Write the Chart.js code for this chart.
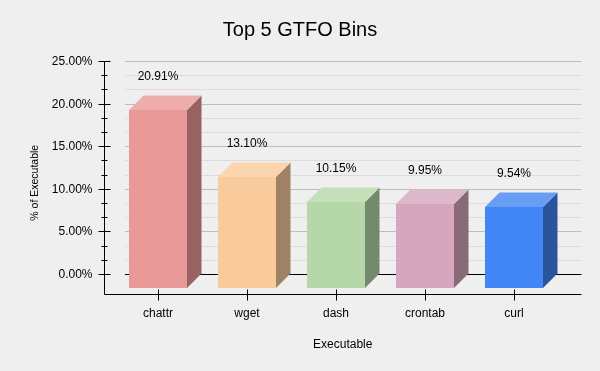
<!DOCTYPE html>
<html>
<head>
<meta charset="utf-8">
<script src="https://cdn.jsdelivr.net/npm/chart.js@4.4.1/dist/chart.umd.min.js"></script>
<style>
  body { margin: 0; background: #efefef; }
  canvas { display: block; }
</style>
</head>
<body>
<canvas id="binChart" width="600" height="371"></canvas>
<script>
const categories = ['chattr', 'wget', 'dash', 'crontab', 'curl'];
const percentages = [20.91, 13.10, 10.15, 9.95, 9.54];
const barColors = ['#ea9999', '#f9cb9c', '#b6d7a8', '#d5a6bd', '#4285f4'];
const majorTicks = [0, 5, 10, 15, 20, 25];
const minorTicks = [1.67, 3.33, 6.67, 8.33, 11.67, 13.33, 16.67, 18.33, 21.67, 23.33];

const FONT = '"Liberation Sans", Arial, sans-serif';
const DEPTH = 14.5;     // 3d offset of the bars
const HALF_BAR = 29;
const WALL_GAP = 21;    // gridlines start this far right of the axis

function shade(hex, f) {
  const n = parseInt(hex.slice(1), 16);
  const r = (n >> 16) & 255, g = (n >> 8) & 255, b = n & 255;
  return `rgb(${Math.round(r * f)}, ${Math.round(g * f)}, ${Math.round(b * f)})`;
}

function tint(hex, t) {
  const n = parseInt(hex.slice(1), 16);
  const r = (n >> 16) & 255, g = (n >> 8) & 255, b = n & 255;
  return `rgb(${Math.round(r + (255 - r) * t)}, ${Math.round(g + (255 - g) * t)}, ${Math.round(b + (255 - b) * t)})`;
}

const crisp = v => Math.round(v) + 0.5;

const bars3d = {
  id: 'bars3d',
  beforeDraw(chart) {
    const ctx = chart.ctx;
    ctx.save();
    ctx.fillStyle = '#efefef';
    ctx.fillRect(0, 0, chart.width, chart.height);
    ctx.restore();
  },
  beforeDatasetsDraw(chart) {
    const { ctx, chartArea } = chart;
    const y = chart.scales.y;
    const x0 = chartArea.left + WALL_GAP;
    const x1 = chartArea.right + DEPTH;
    ctx.save();
    ctx.lineWidth = 1;
    minorTicks.forEach(v => {
      const py = crisp(y.getPixelForValue(v));
      ctx.strokeStyle = '#dcdcdc';
      ctx.beginPath(); ctx.moveTo(x0, py); ctx.lineTo(x1, py); ctx.stroke();
    });
    majorTicks.forEach(v => {
      const py = crisp(y.getPixelForValue(v));
      ctx.strokeStyle = v === 0 ? '#000000' : '#bdbdbd';
      ctx.beginPath(); ctx.moveTo(x0, py); ctx.lineTo(x1, py); ctx.stroke();
    });
    ctx.restore();
  },
  afterDatasetsDraw(chart) {
    const { ctx, chartArea } = chart;
    const y = chart.scales.y;
    const meta = chart.getDatasetMeta(0);
    const base = y.getPixelForValue(0) + DEPTH;

    ctx.save();
    meta.data.forEach((bar, i) => {
      const color = barColors[i];
      const left = Math.round(bar.x - HALF_BAR);
      const right = Math.round(bar.x + HALF_BAR);
      const top = Math.round(bar.y + DEPTH);
      const bottom = Math.round(base);

      // side
      ctx.fillStyle = shade(color, 0.64);
      ctx.beginPath();
      ctx.moveTo(right, top);
      ctx.lineTo(right + DEPTH, top - DEPTH);
      ctx.lineTo(right + DEPTH, bottom - DEPTH);
      ctx.lineTo(right, bottom);
      ctx.closePath();
      ctx.fill();

      // top
      ctx.fillStyle = tint(color, 0.2);
      ctx.beginPath();
      ctx.moveTo(left, top);
      ctx.lineTo(left + DEPTH, top - DEPTH);
      ctx.lineTo(right + DEPTH, top - DEPTH);
      ctx.lineTo(right, top);
      ctx.closePath();
      ctx.fill();

      // front
      ctx.fillStyle = color;
      ctx.fillRect(left, top, right - left, bottom - top);

      // value label
      ctx.fillStyle = '#000';
      ctx.font = '12px ' + FONT;
      ctx.textAlign = 'center';
      ctx.textBaseline = 'middle';
      ctx.fillText(percentages[i].toFixed(2) + '%', bar.x, bar.y - 19);
    });

    // value axis
    const ax = crisp(chartArea.left);
    const ay = crisp(chartArea.bottom);
    ctx.strokeStyle = '#000';
    ctx.lineWidth = 1;
    ctx.beginPath();
    ctx.moveTo(ax, chartArea.top);
    ctx.lineTo(ax, ay);
    ctx.lineTo(chartArea.right + DEPTH, ay);
    ctx.stroke();

    minorTicks.forEach(v => {
      const py = crisp(y.getPixelForValue(v));
      ctx.beginPath(); ctx.moveTo(ax - 3, py); ctx.lineTo(ax + 3, py); ctx.stroke();
    });
    ctx.font = '12px ' + FONT;
    ctx.textAlign = 'right';
    ctx.textBaseline = 'middle';
    ctx.fillStyle = '#000';
    majorTicks.forEach(v => {
      const py = crisp(y.getPixelForValue(v));
      ctx.beginPath(); ctx.moveTo(ax - 6, py); ctx.lineTo(ax + 6, py); ctx.stroke();
      ctx.fillText(v.toFixed(2) + '%', ax - 12, py);
    });

    // category axis
    ctx.textAlign = 'center';
    meta.data.forEach((bar, i) => {
      const px = crisp(bar.x);
      ctx.beginPath(); ctx.moveTo(px, ay - 5); ctx.lineTo(px, ay + 6); ctx.stroke();
      ctx.fillText(categories[i], bar.x, ay + 19);
    });

    // axis titles
    ctx.fillText('Executable', (chartArea.left + chartArea.right + DEPTH) / 2, ay + 50);
    ctx.save();
    ctx.font = '10.5px ' + FONT;
    ctx.translate(35, (chartArea.top + chartArea.bottom + DEPTH) / 2 - 2);
    ctx.rotate(-Math.PI / 2);
    ctx.fillText('% of Executable', 0, 0);
    ctx.restore();

    // title
    ctx.font = '20px ' + FONT;
    ctx.fillText('Top 5 GTFO Bins', chart.width / 2, 30);
    ctx.restore();
  }
};

new Chart(document.getElementById('binChart'), {
  type: 'bar',
  data: {
    datasets: [{
      label: '% of Executable',
      data: percentages.map((v, i) => ({ x: i, y: v })),
      backgroundColor: 'rgba(0,0,0,0)',
      borderWidth: 0
    }]
  },
  options: {
    responsive: false,
    animation: false,
    events: [],
    layout: { padding: { left: 104, right: 33, top: 61, bottom: 77 } },
    plugins: {
      legend: { display: false },
      title: { display: false },
      tooltip: { enabled: false }
    },
    scales: {
      x: { type: 'linear', display: false, offset: false, grid: { offset: false }, min: -0.607, max: 4.596 },
      y: { display: false, min: -2.35, max: 25 }
    }
  },
  plugins: [bars3d]
});
</script>
</body>
</html>
